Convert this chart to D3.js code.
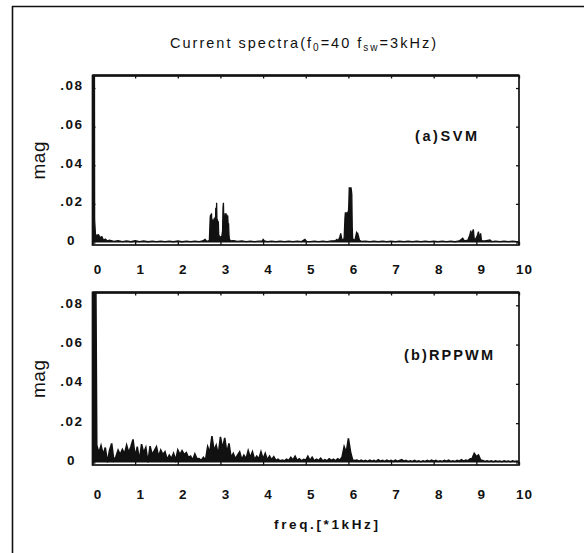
<!DOCTYPE html>
<html><head><meta charset="utf-8">
<script src="https://cdn.jsdelivr.net/npm/d3@7"></script>
<style>
html,body{margin:0;padding:0;background:#fff;}
svg{display:block;}
text{font-family:"Liberation Sans",Arial,sans-serif;fill:#111;}
</style></head><body>
<script>
// ---------- data ----------
const xTickValues = [0,1,2,3,4,5,6,7,8,9,10];
const yTickValues = [0,0.02,0.04,0.06,0.08];
const yTickLabels = ["0",".02",".04",".06",".08"];
const titleText = "Current spectra";
const panelNames = ["(a)SVM","(b)RPPWM"];
const xLabelText = "freq.[*1kHz]";
const yLabelText = "mag";

// (a) SVM spectrum: frequency (kHz) and magnitude pairs
const freqA = [0.00,0.04,0.05,0.07,0.10,0.14,0.18,0.22,0.26,0.30,0.35,0.40,0.50,0.60,0.70,0.80,0.90,1.00,1.10,1.20,1.30,1.40,1.50,1.60,1.70,1.80,1.90,2.00,2.10,2.20,2.30,2.40,2.50,2.58,2.64,2.68,
  2.74,2.76,2.77,2.78,2.79,2.80,2.81,2.82,2.83,2.84,2.85,2.86,2.87,2.88,2.89,2.90,2.91,2.92,2.93,2.94,2.95,2.96,2.97,2.99,3.01,3.03,3.04,3.05,3.06,3.07,3.08,3.09,3.10,3.11,3.12,3.13,3.14,3.15,3.16,3.17,3.18,3.19,3.20,3.21,
  3.25,3.30,3.40,3.50,3.60,3.70,3.80,3.90,3.98,4.00,4.03,4.10,4.20,4.30,4.40,4.50,4.60,4.70,4.80,4.90,4.98,5.02,5.10,5.20,5.30,5.40,5.50,5.60,5.70,5.73,5.76,5.80,5.82,5.85,
  5.90,5.92,5.93,5.94,5.95,5.96,5.97,5.98,5.99,6.00,6.01,6.02,6.03,6.04,6.05,6.06,6.07,6.08,6.09,6.10,
  6.15,6.18,6.19,6.21,6.22,6.26,6.30,6.40,6.50,6.60,6.70,6.80,6.90,7.00,7.10,7.20,7.30,7.40,7.50,7.60,7.70,7.80,7.90,8.00,8.10,8.20,8.30,8.40,8.50,8.60,8.68,8.72,8.80,8.85,8.87,8.89,8.91,8.93,8.95,8.98,9.02,9.05,9.07,9.10,9.12,9.20,9.32,9.36,9.45,9.55,9.65,9.75,9.85,9.95,10.00];
const magA  = [0.0000,0.2000,0.0117,0.0040,0.0038,0.0040,0.0025,0.0030,0.0012,0.0018,0.0008,0.0012,0.0006,0.0009,0.0005,0.0008,0.0004,0.0009,0.0005,0.0008,0.0004,0.0007,0.0004,0.0007,0.0004,0.0007,0.0004,0.0008,0.0004,0.0007,0.0004,0.0007,0.0005,0.0008,0.0016,0.0006,
  0.0010,0.0130,0.0145,0.0100,0.0151,0.0090,0.0120,0.0070,0.0117,0.0080,0.0125,0.0060,0.0130,0.0050,0.0180,0.0070,0.0206,0.0090,0.0120,0.0050,0.0110,0.0030,0.0035,0.0025,0.0030,0.0028,0.0045,0.0060,0.0180,0.0206,0.0100,0.0140,0.0090,0.0151,0.0110,0.0151,0.0100,0.0145,0.0080,0.0140,0.0090,0.0099,0.0040,0.0015,
  0.0008,0.0010,0.0006,0.0008,0.0005,0.0007,0.0005,0.0007,0.0008,0.0016,0.0008,0.0005,0.0007,0.0004,0.0007,0.0004,0.0007,0.0004,0.0007,0.0005,0.0016,0.0006,0.0005,0.0007,0.0004,0.0007,0.0005,0.0008,0.0010,0.0016,0.0008,0.0030,0.0047,0.0012,
  0.0020,0.0130,0.0156,0.0140,0.0156,0.0145,0.0156,0.0148,0.0156,0.0150,0.0200,0.0286,0.0270,0.0286,0.0275,0.0286,0.0270,0.0250,0.0080,0.0020,
  0.0010,0.0040,0.0051,0.0040,0.0045,0.0012,0.0006,0.0007,0.0004,0.0007,0.0004,0.0007,0.0004,0.0007,0.0004,0.0007,0.0004,0.0007,0.0004,0.0007,0.0004,0.0007,0.0004,0.0007,0.0004,0.0007,0.0004,0.0007,0.0004,0.0008,0.0022,0.0008,0.0012,0.0040,0.0061,0.0030,0.0055,0.0068,0.0020,0.0015,0.0035,0.0056,0.0020,0.0047,0.0010,0.0008,0.0013,0.0005,0.0007,0.0004,0.0007,0.0004,0.0007,0.0004,0.0005];

// (b) RPPWM spectrum: magnitude every 0.05 kHz from 0 to 10 kHz
const freqStepB = 0.05;
const magB = [
0.0090,0.2000,0.0088,0.0050,0.0086,0.0040,0.0076,0.0000,0.0063,0.0097,
0.0010,0.0030,0.0063,0.0040,0.0066,0.0045,0.0088,0.0050,0.0080,0.0117,
0.0030,0.0080,0.0010,0.0093,0.0050,0.0076,0.0000,0.0083,0.0040,0.0060,
0.0080,0.0030,0.0063,0.0040,0.0054,0.0015,0.0037,0.0020,0.0046,0.0012,
0.0063,0.0040,0.0060,0.0040,0.0050,0.0025,0.0032,0.0012,0.0043,0.0018,
0.0020,0.0010,0.0026,0.0012,0.0080,0.0050,0.0134,0.0060,0.0088,0.0040,
0.0130,0.0070,0.0125,0.0050,0.0097,0.0025,0.0046,0.0018,0.0037,0.0054,
0.0015,0.0037,0.0018,0.0060,0.0025,0.0054,0.0015,0.0032,0.0018,0.0054,
0.0018,0.0046,0.0012,0.0032,0.0014,0.0029,0.0010,0.0016,0.0008,0.0012,
0.0008,0.0016,0.0010,0.0026,0.0012,0.0032,0.0010,0.0019,0.0008,0.0016,
0.0012,0.0032,0.0010,0.0026,0.0008,0.0016,0.0010,0.0022,0.0008,0.0014,
0.0008,0.0019,0.0010,0.0016,0.0008,0.0019,0.0012,0.0026,0.0080,0.0050,
0.0122,0.0054,0.0012,0.0010,0.0012,0.0006,0.0012,0.0006,0.0010,0.0005,
0.0012,0.0006,0.0010,0.0005,0.0014,0.0006,0.0010,0.0005,0.0012,0.0006,
0.0010,0.0005,0.0012,0.0006,0.0010,0.0014,0.0006,0.0010,0.0005,0.0008,
0.0005,0.0010,0.0005,0.0008,0.0004,0.0008,0.0005,0.0010,0.0005,0.0012,
0.0006,0.0010,0.0005,0.0008,0.0005,0.0010,0.0006,0.0012,0.0005,0.0008,
0.0005,0.0010,0.0006,0.0014,0.0006,0.0012,0.0008,0.0018,0.0020,0.0046,
0.0030,0.0038,0.0012,0.0010,0.0005,0.0008,0.0005,0.0008,0.0004,0.0008,
0.0005,0.0007,0.0004,0.0008,0.0005,0.0007,0.0004,0.0008,0.0005,0.0007,
0.0005];
const freqB = magB.map((d,i) => +(i*freqStepB).toFixed(2));

// ---------- layout ----------
const W = 584, H = 553;
const svg = d3.select("body").append("svg").attr("width", W).attr("height", H);
svg.append("rect").attr("width", W).attr("height", H).attr("fill", "#fff");

// outer frame (top and left edges of the scanned figure)
svg.append("line").attr("x1", 12).attr("x2", W).attr("y1", 6.5).attr("y2", 6.5)
  .attr("stroke", "#111").attr("stroke-width", 1.6);
svg.append("line").attr("x1", 12.5).attr("x2", 12.5).attr("y1", 6).attr("y2", H)
  .attr("stroke", "#111").attr("stroke-width", 1.6);

// title with subscripts
const title = svg.append("text").attr("x", 303).attr("y", 47.5)
  .attr("text-anchor", "middle").style("font-size", "14.5px");
title.append("tspan").text(titleText + "(f");
title.append("tspan").attr("dy", 3.5).style("font-size", "10px").text("0");
title.append("tspan").attr("dy", -3.5).text("=40 f");
title.append("tspan").attr("dy", 3.5).style("font-size", "10px").text("sw");
title.append("tspan").attr("dy", -3.5).text("=3kHz)");
title.attr("textLength", 266).attr("lengthAdjust", "spacing");

const x = d3.scaleLinear().domain([0, 10]).range([92.5, 519]);

const panels = [
  {top: 75.5, bottom: 245, labelY: 269, name: panelNames[0], nameX: 446, nameY: 136, nameLen: 62, freq: freqA, mag: magA, sw: 1.3},
  {top: 292.5, bottom: 465, labelY: 494, name: panelNames[1], nameX: 448.5, nameY: 355, nameLen: 89, freq: freqB, mag: magB, sw: 1.6}
];

panels.forEach((p, k) => {
  const y = d3.scaleLinear().domain([-0.0013, 0.0865]).range([p.bottom, p.top]);
  const g = svg.append("g");
  const clipId = "clip" + k;
  svg.append("clipPath").attr("id", clipId).append("rect")
    .attr("x", x.range()[0]).attr("y", p.top)
    .attr("width", x.range()[1] - x.range()[0]).attr("height", p.bottom - p.top);

  // data: filled trace plus outline
  const pts = p.freq.map((f, i) => [f, p.mag[i]]);
  g.append("path").datum(pts)
    .attr("clip-path", `url(#${clipId})`)
    .attr("fill", "#111").attr("stroke", "none")
    .attr("d", d3.area().x(d => x(d[0])).y0(y(0)).y1(d => y(d[1])));
  g.append("path").datum(pts)
    .attr("clip-path", `url(#${clipId})`)
    .attr("fill", "none").attr("stroke", "#111").attr("stroke-width", p.sw)
    .attr("stroke-linejoin", "miter")
    .attr("d", d3.line().x(d => x(d[0])).y(d => y(d[1])));

  // inward ticks on all four sides
  g.append("g").attr("transform", `translate(0,${p.bottom})`)
    .call(d3.axisBottom(x).tickValues(xTickValues).tickSize(-3).tickFormat(""))
    .call(s => s.select(".domain").remove());
  g.append("g").attr("transform", `translate(0,${p.top})`)
    .call(d3.axisTop(x).tickValues(xTickValues).tickSize(-3).tickFormat(""))
    .call(s => s.select(".domain").remove());
  g.append("g").attr("transform", `translate(${x.range()[0]},0)`)
    .call(d3.axisLeft(y).tickValues(yTickValues).tickSize(-3).tickFormat(""))
    .call(s => s.select(".domain").remove());
  g.append("g").attr("transform", `translate(${x.range()[1]},0)`)
    .call(d3.axisRight(y).tickValues(yTickValues).tickSize(-3).tickFormat(""))
    .call(s => s.select(".domain").remove());
  g.selectAll(".tick line").attr("stroke", "#111").attr("stroke-width", 1.3);

  // box
  g.append("rect").attr("x", x.range()[0]).attr("y", p.top)
    .attr("width", x.range()[1] - x.range()[0]).attr("height", p.bottom - p.top)
    .attr("fill", "none").attr("stroke", "#111").attr("stroke-width", 1.7);
  g.append("line").attr("x1", x.range()[0]).attr("x2", x.range()[1])
    .attr("y1", p.top).attr("y2", p.top).attr("stroke", "#111").attr("stroke-width", 2.4);

  // x tick labels
  const xl = g.append("g").attr("transform", `translate(5,${p.labelY})`)
    .call(d3.axisBottom(x).tickValues(xTickValues).tickSize(0).tickPadding(0).tickFormat(d3.format("d")));
  xl.select(".domain").remove();
  xl.selectAll("text").attr("dy", "0.36em").attr("y", 0)
    .style("font-size", "13.5px").style("font-weight", "bold").style("letter-spacing", "1px")
    .style("font-family", '"Liberation Sans",Arial,sans-serif').attr("fill", "#111");

  // y tick labels
  const yl = g.append("g").attr("transform", `translate(71,0)`)
    .call(d3.axisLeft(y).tickValues(yTickValues).tickSize(0).tickPadding(0)
      .tickFormat((d, i) => yTickLabels[i]));
  yl.select(".domain").remove();
  yl.selectAll("text").attr("text-anchor", "middle").attr("x", 0).attr("dy", "0.36em")
    .style("font-size", "13.5px").style("font-weight", "bold").style("letter-spacing", "1.5px")
    .style("font-family", '"Liberation Sans",Arial,sans-serif').attr("fill", "#111");
  yl.selectAll(".tick").attr("transform", (d, i) => `translate(${i === 0 ? 0.5 : 1},${y(d) - 2.5})`);

  // y axis title
  svg.append("text").attr("transform", `translate(45,${(p.top + p.bottom) / 2}) rotate(-90)`)
    .attr("text-anchor", "middle").style("font-size", "19px").style("letter-spacing", "0.5px")
    .text(yLabelText);

  // panel name
  svg.append("text").attr("x", p.nameX).attr("y", p.nameY).attr("dy", "0.36em")
    .attr("text-anchor", "middle").style("font-size", "14.5px").style("font-weight", "bold")
    .attr("textLength", p.nameLen).attr("lengthAdjust", "spacing")
    .text(p.name);
});

// x axis title
svg.append("text").attr("x", 326).attr("y", 524).attr("dy", "0.36em")
  .attr("text-anchor", "middle").style("font-size", "13.5px").style("font-weight", "bold")
  .attr("textLength", 104).attr("lengthAdjust", "spacing")
  .text(xLabelText);
</script>
</body></html>
